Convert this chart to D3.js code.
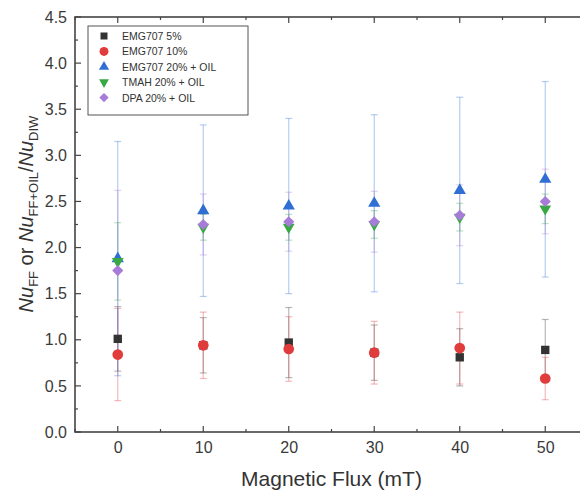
<!DOCTYPE html>
<html>
<head>
<meta charset="utf-8">
<script src="https://cdn.jsdelivr.net/npm/d3@7/dist/d3.min.js"></script>
<style>
  body { margin: 0; background: #fff; }
  svg { font-family: Arial, "Liberation Sans", sans-serif; }
</style>
</head>
<body>
<svg id="chart" width="580" height="493"></svg>
<script>
// data
var flux = [0, 10, 20, 30, 40, 50];
var seriesNames = ['EMG707 5%', 'EMG707 10%', 'EMG707 20% + OIL', 'TMAH 20% + OIL', 'DPA 20% + OIL'];
var emg5 = [1.01, 0.94, 0.97, 0.86, 0.81, 0.89];
var emg5Err = [0.35, 0.30, 0.38, 0.30, 0.31, 0.33];
var emg10 = [0.84, 0.94, 0.90, 0.86, 0.91, 0.58];
var emg10Err = [0.50, 0.36, 0.35, 0.34, 0.39, 0.23];
var emg20 = [1.88, 2.40, 2.45, 2.48, 2.62, 2.74];
var emg20Err = [1.27, 0.93, 0.95, 0.96, 1.01, 1.06];
var tmah = [1.85, 2.22, 2.22, 2.25, 2.33, 2.42];
var tmahErr = [0.42, 0.14, 0.14, 0.15, 0.15, 0.16];
var dpa = [1.75, 2.25, 2.28, 2.28, 2.35, 2.50];
var dpaErr = [0.87, 0.33, 0.32, 0.33, 0.33, 0.35];
var xTicks = [0, 10, 20, 30, 40, 50];
var yTicks = [0, 0.5, 1, 1.5, 2, 2.5, 3, 3.5, 4, 4.5];

var colors = ['#333333', '#e03c3c', '#2f6fd3', '#38a845', '#a77bd8'];
var shapes = [d3.symbolSquare, d3.symbolCircle, d3.symbolTriangle, d3.symbolTriangle, d3.symbolSquare];
var sizes = [70, 90, 65, 60, 62];
var rotate = [0, 0, 0, 180, 45];

var allSeries = [
    {vals: emg5, err: emg5Err},
    {vals: emg10, err: emg10Err},
    {vals: emg20, err: emg20Err},
    {vals: tmah, err: tmahErr},
    {vals: dpa, err: dpaErr}
];

var svg = d3.select('#chart');
var pLeft = 75, pRight = 588, pTop = 17, pBottom = 432;

var x = d3.scaleLinear().domain([-5, 55]).range([pLeft, pRight]);
var y = d3.scaleLinear().domain([0, 4.5]).range([pBottom, pTop]);

var axisColor = '#444';
var g = svg.append('g');

// minor + major ticks, inward on all four sides
function tickLines(vals, len, isX) {
    vals.forEach(function (v) {
        if (isX) {
            g.append('line').attr('x1', x(v)).attr('x2', x(v)).attr('y1', pBottom).attr('y2', pBottom - len)
                .attr('stroke', axisColor).attr('stroke-width', 1.2);
            g.append('line').attr('x1', x(v)).attr('x2', x(v)).attr('y1', pTop).attr('y2', pTop + len)
                .attr('stroke', axisColor).attr('stroke-width', 1.2);
        } else {
            g.append('line').attr('x1', pLeft).attr('x2', pLeft + len).attr('y1', y(v)).attr('y2', y(v))
                .attr('stroke', axisColor).attr('stroke-width', 1.2);
            g.append('line').attr('x1', pRight).attr('x2', pRight - len).attr('y1', y(v)).attr('y2', y(v))
                .attr('stroke', axisColor).attr('stroke-width', 1.2);
        }
    });
}
tickLines(xTicks, 6, true);
tickLines([-5, 5, 15, 25, 35, 45, 55], 3, true);
tickLines(yTicks, 6, false);
tickLines(d3.range(0.25, 4.5, 0.5), 3, false);

g.append('rect').attr('x', pLeft).attr('y', pTop).attr('width', pRight - pLeft).attr('height', pBottom - pTop)
    .attr('fill', 'none').attr('stroke', axisColor).attr('stroke-width', 1.6);

// tick labels
var xAxis = d3.axisBottom(x).tickValues(xTicks).tickSize(0).tickPadding(10).tickFormat(d3.format('d'));
var xg = svg.append('g').attr('transform', 'translate(0,' + pBottom + ')').call(xAxis);
xg.select('.domain').remove();
xg.selectAll('text').attr('font-size', 16).attr('fill', '#3a3a3a');

var yAxis = d3.axisLeft(y).tickValues(yTicks).tickSize(0).tickPadding(8).tickFormat(d3.format('.1f'));
var yg = svg.append('g').attr('transform', 'translate(' + pLeft + ',0)').call(yAxis);
yg.select('.domain').remove();
yg.selectAll('text').attr('font-size', 16).attr('fill', '#3a3a3a');

// axis titles
svg.append('text').attr('x', (pLeft + pRight) / 2).attr('y', 486).attr('text-anchor', 'middle')
    .attr('font-size', 21).attr('fill', '#333').text('Magnetic Flux (mT)');

var yl = svg.append('text').attr('transform', 'translate(33,214) rotate(-90)')
    .attr('text-anchor', 'middle').attr('font-size', 20).attr('fill', '#333');
var parts = [['Nu', 'i'], ['FF', 's'], [' or ', 'n'], ['Nu', 'i'], ['FF+OIL', 's'], ['/', 'n'], ['Nu', 'i'], ['DIW', 's']];
parts.forEach(function (p) {
    var t = yl.append('tspan').text(p[0]);
    if (p[1] === 'i') t.attr('font-style', 'italic');
    if (p[1] === 's') t.attr('font-size', 13).attr('baseline-shift', '-5');
});

// error bars
var plot = svg.append('g');
allSeries.forEach(function (s, i) {
    var eb = plot.append('g').attr('stroke', colors[i]).attr('stroke-opacity', 0.35).attr('stroke-width', 1.2);
    flux.forEach(function (f, j) {
        var cx = x(f), hi = y(s.vals[j] + s.err[j]), lo = y(s.vals[j] - s.err[j]);
        eb.append('line').attr('x1', cx).attr('x2', cx).attr('y1', hi).attr('y2', lo);
        eb.append('line').attr('x1', cx - 3.5).attr('x2', cx + 3.5).attr('y1', hi).attr('y2', hi);
        eb.append('line').attr('x1', cx - 3.5).attr('x2', cx + 3.5).attr('y1', lo).attr('y2', lo);
    });
});

// markers
allSeries.forEach(function (s, i) {
    var sym = d3.symbol().type(shapes[i]).size(sizes[i]);
    plot.selectAll('.m' + i).data(s.vals).enter().append('path')
        .attr('d', sym)
        .attr('transform', function (d, j) {
            return 'translate(' + x(flux[j]) + ',' + y(d) + ') rotate(' + rotate[i] + ')';
        })
        .attr('fill', colors[i]);
});

// legend
var lg = svg.append('g');
lg.append('rect').attr('x', 88).attr('y', 26).attr('width', 160).attr('height', 89)
    .attr('fill', '#fff').attr('stroke', '#555').attr('stroke-width', 1);
seriesNames.forEach(function (name, i) {
    var ly = 36 + i * 15.4;
    lg.append('path').attr('d', d3.symbol().type(shapes[i]).size(sizes[i] * 0.7)())
        .attr('transform', 'translate(104,' + ly + ') rotate(' + rotate[i] + ')')
        .attr('fill', colors[i]);
    lg.append('text').attr('x', 122).attr('y', ly + 4).attr('font-size', 10.5).attr('fill', '#333').text(name);
});
</script>
</body>
</html>
